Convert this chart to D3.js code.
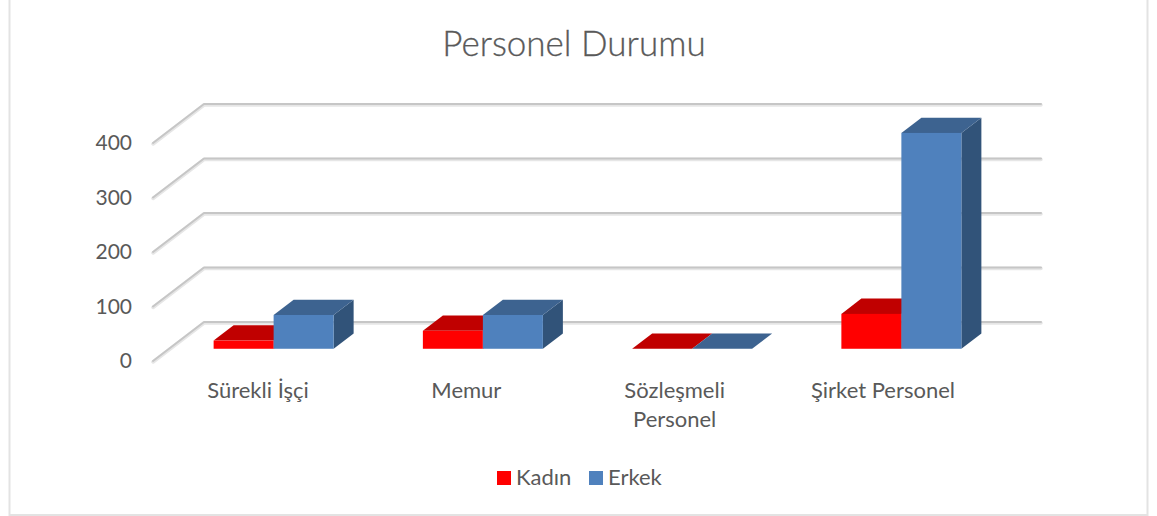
<!DOCTYPE html>
<html>
<head>
<meta charset="utf-8">
<script src="https://cdn.jsdelivr.net/npm/d3@7"></script>
<style>
    html, body { margin: 0; background: #fff; }
    text { font-family: Lato, "Open Sans", sans-serif; fill: #595959; }
</style>
</head>
<body>
<svg id="chart" width="1157" height="516"></svg>
<script>
const categories = [["Sürekli İşçi"], ["Memur"], ["Sözleşmeli", "Personel"], ["Şirket Personel"]];
const seriesNames = ["Kadın", "Erkek"];
const kadin = [15, 33, 0, 64];
const erkek = [62, 62, 0, 396];
const yTicks = [0, 100, 200, 300, 400];
const colors = ["#ff0000", "#4f81bd"];
const topColors = ["#c00000", "#3d6390"];
const sideColors = ["#a00000", "#315379"];

const svg = d3.select("#chart");

// chart frame
svg.append("path")
    .attr("d", `M9.5,-2V515H1147.5V-2`)
    .attr("fill", "none")
    .attr("stroke", "#e3e3e3")
    .attr("stroke-width", 2);

svg.append("text")
    .attr("x", 574)
    .attr("y", 56)
    .attr("text-anchor", "middle")
    .attr("font-size", 35)
    .attr("font-weight", 300)
    .style("stroke", "#595959")
    .style("stroke-width", 0.3)
    .text("Personel Durumu");

// back wall scale, the depth scales go from the front of the floor (0) to the wall (1)
const wallX = [204, 1041];
const y = d3.scaleLinear().domain([0, 400]).range([322, 104]);
const depthX = d3.scaleLinear().domain([0, 1]).range([-51, 0]);
const depthY = d3.scaleLinear().domain([0, 1]).range([39, 0]);

// bars stand between these two depths
const barFront = 1 - 35 / 51;
const barBack = 1 - 15 / 51;
const barShiftX = depthX(barFront), barShiftY = depthY(barFront);
const rearX = depthX(barBack) - barShiftX, rearY = depthY(barBack) - barShiftY;

const x0 = d3.scaleBand()
    .domain(d3.range(categories.length))
    .range([wallX[0] + barShiftX, wallX[1] + barShiftX]);
const x1 = d3.scaleBand()
    .domain(d3.range(seriesNames.length))
    .range([-60, 60]);

// gridlines: shadow first, then line
const gridPath = v => d3.line()([
    [wallX[0] + depthX(0), y(v) + depthY(0)],
    [wallX[0], y(v)],
    [wallX[1], y(v)]
]);
const grid = svg.append("g").attr("fill", "none").attr("stroke-linejoin", "round").attr("stroke-linecap", "round");
grid.selectAll(".shadow").data(yTicks).join("path")
    .attr("class", "shadow")
    .attr("d", gridPath)
    .attr("transform", "translate(0,1)")
    .attr("stroke", "#e6e6e6")
    .attr("stroke-width", 3.5);
grid.selectAll(".line").data(yTicks).join("path")
    .attr("class", "line")
    .attr("d", gridPath)
    .attr("stroke", "#c6c6c6")
    .attr("stroke-width", 2);

// y axis sits on the front end of the side wall
const yAxisScale = y.copy().range(y.range().map(d => d + depthY(0)));
const yAxis = svg.append("g")
    .attr("transform", "translate(132,0)")
    .call(d3.axisLeft(yAxisScale).tickValues(yTicks).tickSize(0).tickPadding(0));
yAxis.select(".domain").remove();
yAxis.selectAll("text")
    .attr("font-size", 21)
    .attr("font-family", "Lato, 'Open Sans', sans-serif")
    .style("fill", "#595959");

// bars
const bars = [];
categories.forEach((c, i) => {
    [kadin, erkek].forEach((vals, s) => {
        bars.push({ i, s, v: vals[i] });
    });
});

const barLeft = d => x0(d.i) + x0.bandwidth() / 2 + x1(d.s);
const barRight = d => barLeft(d) + x1.bandwidth();
const barBase = y(0) + barShiftY;
const barTop = d => y(d.v) + barShiftY;

const poly = pts => d3.line()(pts) + "Z";

const bar = svg.append("g").selectAll("g").data(bars).join("g");

bar.append("path")
    .attr("d", d => poly([
        [barRight(d), barBase],
        [barRight(d) + rearX, barBase + rearY],
        [barRight(d) + rearX, barTop(d) + rearY],
        [barRight(d), barTop(d)]
    ]))
    .attr("fill", d => sideColors[d.s]);

bar.append("path")
    .attr("d", d => poly([
        [barLeft(d), barTop(d)],
        [barLeft(d) + rearX, barTop(d) + rearY],
        [barRight(d) + rearX, barTop(d) + rearY],
        [barRight(d), barTop(d)]
    ]))
    .attr("fill", d => topColors[d.s]);

bar.append("rect")
    .attr("x", barLeft)
    .attr("y", barTop)
    .attr("width", x1.bandwidth())
    .attr("height", d => barBase - barTop(d))
    .attr("fill", d => colors[d.s]);

// category labels are spaced a little tighter than the bars
const labelX = d3.scalePoint().domain(d3.range(categories.length)).range([258, 883]);
const catLabel = svg.append("g").selectAll("text").data(categories).join("text")
    .attr("text-anchor", "middle")
    .attr("font-size", 22)
    .attr("transform", (d, i) => `translate(${labelX(i)},398)`);
catLabel.selectAll("tspan").data(d => d).join("tspan")
    .attr("x", 0)
    .attr("y", (d, i) => i * 29)
    .text(d => d);

// legend
const legendX = [497, 589];
const legend = svg.append("g").selectAll("g").data(seriesNames).join("g")
    .attr("transform", (d, i) => `translate(${legendX[i]},471)`);
legend.append("rect")
    .attr("width", 14)
    .attr("height", 14)
    .attr("fill", (d, i) => colors[i]);
legend.append("text")
    .attr("x", 19)
    .attr("y", 14)
    .attr("font-size", 22)
    .text(d => d);
</script>
</body>
</html>
